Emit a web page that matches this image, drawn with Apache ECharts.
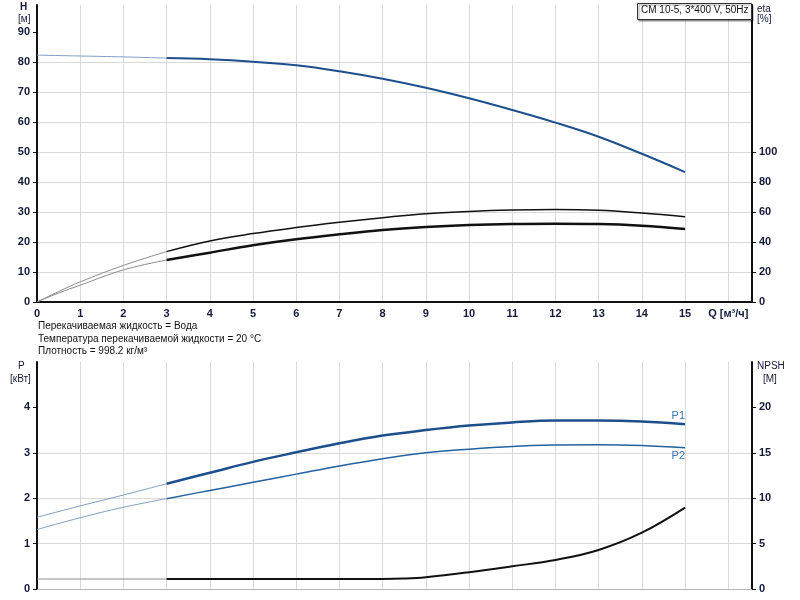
<!DOCTYPE html>
<html>
<head>
<meta charset="utf-8">
<script src="https://cdn.jsdelivr.net/npm/echarts@6/dist/echarts.min.js"></script>
<style>html,body{margin:0;padding:0;background:#fff;}#c{width:800px;height:600px;}</style>
</head>
<body>
<div id="c"></div>
<script>
// ---- data ----
var qStart = [0, 1, 2, 3];
var qMain = [3, 4, 5, 6, 7, 8, 9, 10, 11, 12, 13, 14, 15];
var hStart = [82.3, 82.0, 81.7, 81.3];
var hMain = [81.3, 80.9, 80.1, 78.9, 76.9, 74.4, 71.4, 67.9, 64.0, 59.8, 55.1, 49.4, 43.3];

var qEtaStart = [0, 0.5, 1, 2, 3];
var eta1Start = [0, 7.0, 13.4, 24.4, 33.6];
var eta2Start = [0, 6.0, 11.2, 21.4, 28.0];
var eta1Main = [33.6, 40.7, 45.6, 49.6, 53.1, 56.2, 58.9, 60.4, 61.3, 61.6, 61.1, 59.3, 56.9];
var eta2Main = [28.0, 32.9, 37.8, 41.8, 45.1, 48.0, 50.0, 51.3, 52.0, 52.2, 52.0, 50.9, 48.7];

var p1Start = [1.58, 1.83, 2.07, 2.32];
var p2Start = [1.31, 1.57, 1.80, 1.99];
var p1Main = [2.32, 2.56, 2.80, 3.01, 3.21, 3.38, 3.50, 3.60, 3.67, 3.71, 3.71, 3.69, 3.63];
var p2Main = [1.99, 2.17, 2.35, 2.53, 2.71, 2.87, 3.00, 3.08, 3.14, 3.17, 3.18, 3.16, 3.11];

var qNpshStart = [0, 3];
var npshStart = [1.1, 1.1];
var qNpshMain = [3, 4, 5, 6, 7, 8, 8.5, 9, 10, 11, 12, 13, 14, 15];
var npshMain = [1.1, 1.1, 1.1, 1.1, 1.1, 1.1, 1.15, 1.3, 1.85, 2.5, 3.2, 4.3, 6.2, 8.96];

var hTicks = [0, 10, 20, 30, 40, 50, 60, 70, 80, 90];
var etaTicks = [0, 20, 40, 60, 80, 100];
var pTicks = [0, 1, 2, 3, 4];
var npshTicks = [0, 5, 10, 15, 20];
var qTicks = [0, 1, 2, 3, 4, 5, 6, 7, 8, 9, 10, 11, 12, 13, 14, 15, 16];
var qAxisName = 'Q [м³/ч]';
var infoLines = ['Перекачиваемая жидкость = Вода', 'Температура перекачиваемой жидкости = 20 °C', 'Плотность = 998.2 кг/м³'];
var titleText = 'CM 10-5, 3*400 V, 50Hz';

function zip(xs, ys) { return xs.map(function (x, i) { return [x, ys[i]]; }); }

var FONT = '"Liberation Sans", Arial, sans-serif';
var LBL = { fontFamily: FONT, fontSize: 11, fontWeight: 'bold', color: '#14193a' };
var GRIDC = '#d9d9d9';

var chart = echarts.init(document.getElementById('c'), null, { renderer: 'canvas' });

function xAx(idx, showLabels, lineColor, lineW) {
  return {
    type: 'value', gridIndex: idx, min: 0, max: 16.55, interval: 1,
    axisLine: { show: true, onZero: false, lineStyle: { color: lineColor, width: lineW } },
    axisTick: { show: false },
    axisLabel: showLabels ? Object.assign({
      margin: 6,
      customValues: qTicks,
      formatter: function (v) { return v === 16 ? qAxisName : String(v); }
    }, LBL) : { show: false },
    splitLine: { show: true, showMaxLine: false, showMinLine: false, lineStyle: { color: GRIDC, width: 1 } }
  };
}

function yAx(idx, pos, max, interval, ticks, split) {
  return {
    type: 'value', gridIndex: idx, position: pos, min: 0, max: max, interval: interval,
    axisLine: { show: true, lineStyle: { color: '#111', width: 2 } },
    axisTick: { show: true, length: 4, customValues: ticks, lineStyle: { color: '#111', width: 1 } },
    axisLabel: Object.assign({ margin: 7, customValues: ticks }, LBL),
    splitLine: { show: split, showMaxLine: false, showMinLine: false, lineStyle: { color: GRIDC, width: 1 } }
  };
}

function line(name, data, xi, yi, color, width, extra) {
  return Object.assign({
    name: name, type: 'line', data: data, xAxisIndex: xi, yAxisIndex: yi,
    smooth: 0.4, showSymbol: false, symbol: 'none', silent: true,
    lineStyle: { color: color, width: width }, itemStyle: { color: color }, z: 3
  }, extra || {});
}

var textGraphics = infoLines.map(function (t, i) {
  return { type: 'text', left: 38, top: 321.5 + i * 12.5, style: { text: t, font: '10px ' + FONT, fill: '#111' } };
});

var option = {
  animation: false,
  backgroundColor: '#fff',
  grid: [
    { left: 37, right: 48, top: 5, height: 297 },
    { left: 37, right: 48, top: 362, height: 227 }
  ],
  xAxis: [xAx(0, true, '#111', 2), xAx(1, false, '#b5b5b5', 1)],
  yAxis: [
    yAx(0, 'left', 99, 10, hTicks, true),
    yAx(0, 'right', 198, 20, etaTicks, false),
    yAx(1, 'left', 5, 1, pTicks, true),
    yAx(1, 'right', 25, 5, npshTicks, false)
  ],
  graphic: [
    { type: 'text', left: 20, top: 2, style: { text: 'H', font: 'bold 10px ' + FONT, fill: '#14193a' } },
    { type: 'text', left: 18, top: 14, style: { text: '[м]', font: '10px ' + FONT, fill: '#14193a' } },
    { type: 'text', left: 757, top: 4, style: { text: 'eta', font: '10px ' + FONT, fill: '#14193a' } },
    { type: 'text', left: 757, top: 14, style: { text: '[%]', font: '10px ' + FONT, fill: '#14193a' } },
    { type: 'text', left: 18, top: 361, style: { text: 'P', font: '10px ' + FONT, fill: '#14193a' } },
    { type: 'text', left: 10, top: 374, style: { text: '[кВт]', font: '10px ' + FONT, fill: '#14193a' } },
    { type: 'text', left: 757, top: 361, style: { text: 'NPSH', font: '10px ' + FONT, fill: '#14193a' } },
    { type: 'text', left: 763, top: 374, style: { text: '[М]', font: '10px ' + FONT, fill: '#14193a' } },
    { type: 'rect', left: 637, top: 3, shape: { width: 114, height: 16 },
      style: { fill: '#fff', stroke: '#333', lineWidth: 1, shadowColor: 'rgba(0,0,0,0.35)', shadowOffsetX: 1.5, shadowOffsetY: 1.5, shadowBlur: 1 }, z: 10 },
    { type: 'text', left: 641, top: 5.5, style: { text: titleText, font: '10px ' + FONT, fill: '#111' }, z: 11 }
  ].concat(textGraphics),
  series: [
    line('H0', zip(qStart, hStart), 0, 0, '#7f9ec2', 1),
    line('H', zip(qMain, hMain), 0, 0, '#1d4f8c', 2),
    line('eta1_0', zip(qEtaStart, eta1Start), 0, 1, '#8a8a8a', 1),
    line('eta1', zip(qMain, eta1Main), 0, 1, '#111', 1.5),
    line('eta2_0', zip(qEtaStart, eta2Start), 0, 1, '#8a8a8a', 1),
    line('eta2', zip(qMain, eta2Main), 0, 1, '#111', 2.5),
    line('P1_0', zip(qStart, p1Start), 1, 2, '#7f9ec2', 1),
    line('P1', zip(qMain, p1Main), 1, 2, '#1d4f8c', 2.5, {
      endLabel: { show: true, formatter: 'P1', color: '#3a72ad', fontFamily: FONT, fontSize: 11, align: 'right', verticalAlign: 'middle', distance: 0, offset: [0, -8] }
    }),
    line('P2_0', zip(qStart, p2Start), 1, 2, '#7f9ec2', 1),
    line('P2', zip(qMain, p2Main), 1, 2, '#2361a0', 1.5, {
      endLabel: { show: true, formatter: 'P2', color: '#3a72ad', fontFamily: FONT, fontSize: 11, align: 'right', verticalAlign: 'middle', distance: 0, offset: [0, 8] }
    }),
    line('NPSH0', zip(qNpshStart, npshStart), 1, 3, '#8a8a8a', 1),
    line('NPSH', zip(qNpshMain, npshMain), 1, 3, '#111', 2)
  ]
};
chart.setOption(option);
</script>
</body>
</html>
